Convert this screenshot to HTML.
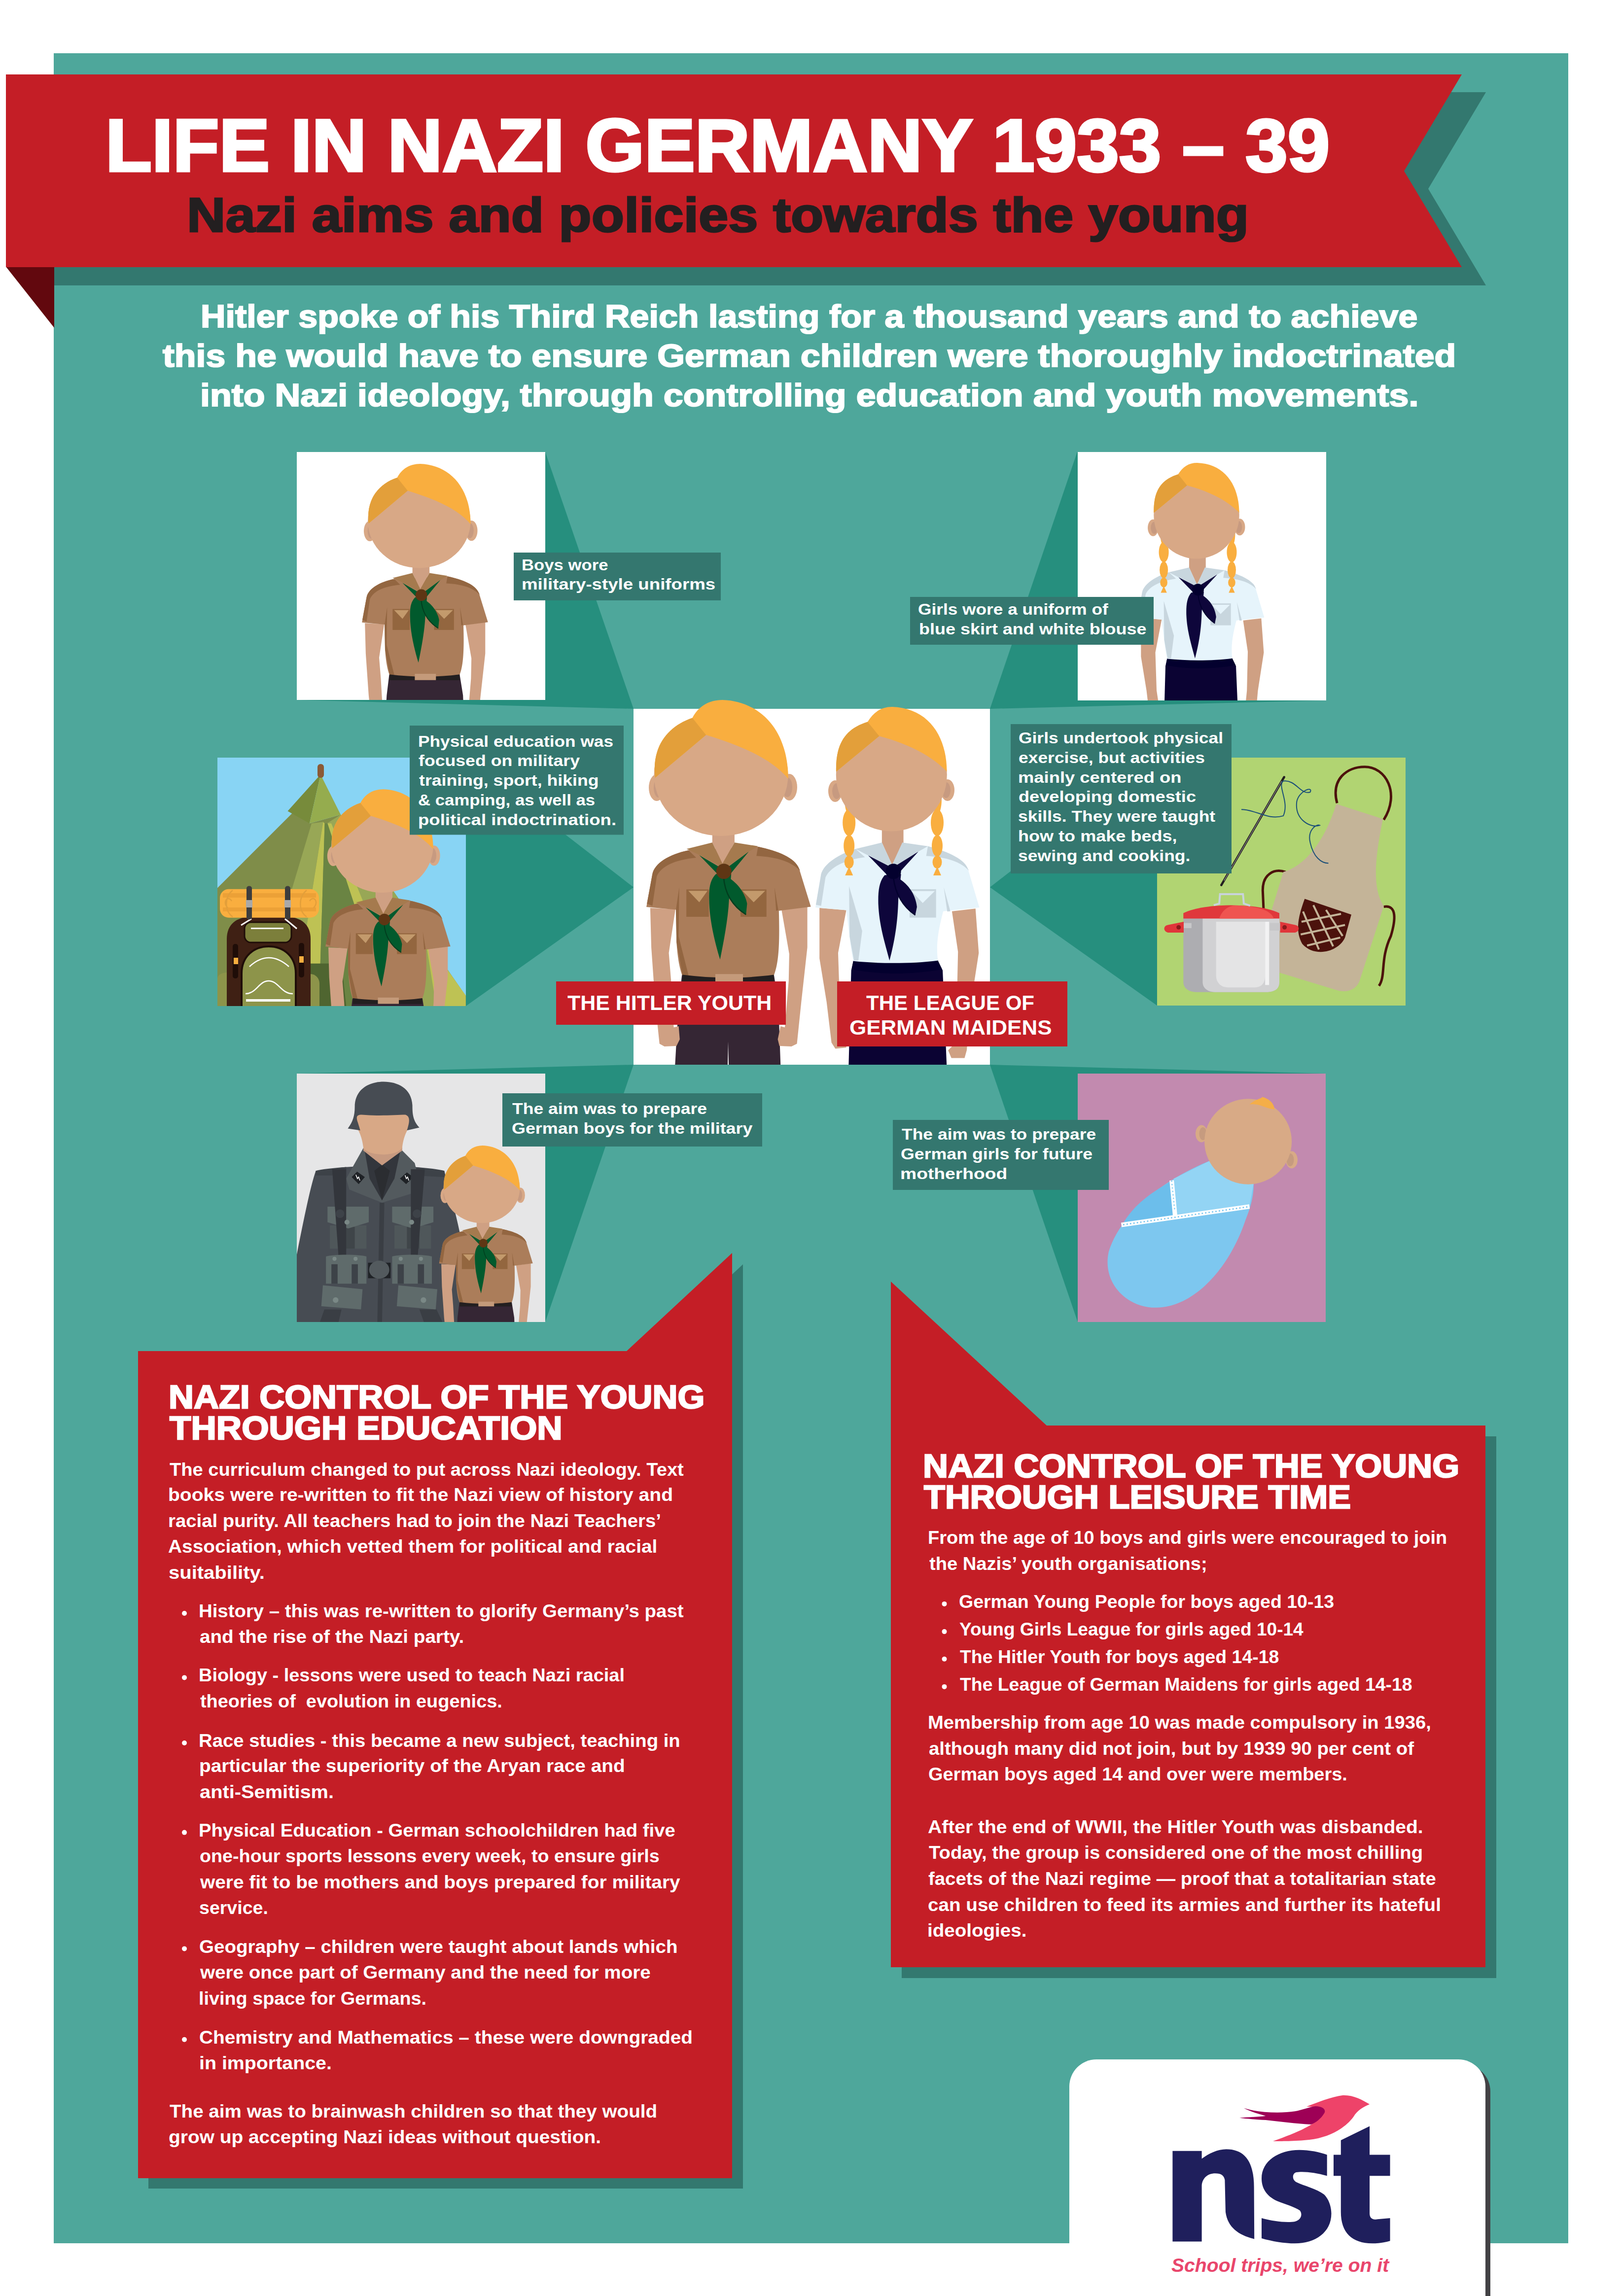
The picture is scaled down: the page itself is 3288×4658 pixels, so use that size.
<!DOCTYPE html>
<html><head><meta charset="utf-8"><style>
html,body{margin:0;padding:0;background:#fff;}
body{width:3288px;height:4658px;position:relative;overflow:hidden;font-family:"Liberation Sans",sans-serif;}
svg{position:absolute;left:0;top:0;}
.t{position:absolute;white-space:pre;font-weight:bold;transform-origin:0 0;}
</style></head><body>
<svg width="3288" height="4658" viewBox="0 0 3288 4658">
<defs>
<g id="boy">
<polygon fill="#352634" points="1383.3,1977.6 1569.8,1977.6 1578.7,2033.1 1584.3,2188.6 1478.8,2188.6 1477.0,2113.1 1475.4,2188.6 1367.7,2188.6 1376.6,2033.1"/>
<polygon fill="#cfa083" points="1318.9,1842.1 1321.1,1922.1 1328.9,2033.1 1337.7,2117.5 1347.7,2123.1 1372.2,2122.0 1378.8,2108.6 1376.6,2082.0 1366.6,2084.2 1361.1,1988.7 1356.6,1933.2 1370.0,1844.4"/>
<polygon fill="#cfa083" points="1637.6,1839.5 1637.6,1922.1 1625.3,2033.1 1616.5,2117.5 1605.4,2123.1 1580.9,2122.0 1577.6,2108.6 1583.2,2082.0 1592.0,2084.2 1599.8,1988.7 1600.9,1935.4 1585.4,1846.6"/>
<path fill="#ab7d5a" d="M 1396.6 1724.9 C 1356.6 1733.3 1327.8 1751.1 1323.3 1773.3 L 1311.1 1839.9 1371.1 1845.5 1372.2 1911.0 C 1374.4 1944.3 1378.8 1966.5 1384.4 1979.8 C 1445.5 1986.5 1512.1 1986.5 1569.8 1978.7 C 1578.7 1955.4 1582.0 1922.1 1579.8 1847.7 L 1644.7 1839.5 1620.9 1762.2 C 1612.0 1740.0 1578.7 1726.7 1537.6 1717.8 Z"/>
<path fill="#936641" d="M 1396.6 1724.9 C 1356.6 1733.3 1327.8 1751.1 1323.3 1773.3 L 1312.2 1833.3 1323.3 1837.7 1332.2 1777.7 C 1341.1 1757.7 1367.7 1744.4 1412.1 1740.0 Z"/>
<path fill="#936641" d="M 1537.6 1717.8 C 1578.7 1726.7 1612.0 1740.0 1620.9 1762.2 L 1623.1 1766.6 C 1605.4 1748.9 1578.7 1738.9 1534.3 1736.6 Z"/>
<polygon fill="#936641" points="1371.1,1845.5 1377.7,1799.9 1376.6,1899.9 1396.6,1978.7 1384.4,1978.7 1372.2,1911.0"/>
<polygon fill="#936641" points="1570.9,1799.9 1578.7,1846.6 1574.3,1847.7"/>
<path fill="#231f20" d="M 1384.4 1977.6 C 1445.5 1985.4 1512.1 1985.4 1569.4 1977.6 L 1569.4 1993.2 1384.4 1993.2 Z"/>
<rect fill="#c49a7a" x="1451.0" y="1976.1" width="56.0" height="16.7"/>
<rect fill="#93663f" x="1392.2" y="1804.4" width="45.5" height="55.5"/>
<polygon fill="#c39a6c" points="1396.2,1807.3 1435.0,1807.3 1418.4,1830.6"/>
<rect fill="#93663f" x="1502.1" y="1804.4" width="52.6" height="55.5"/>
<polygon fill="#c39a6c" points="1506.1,1807.3 1552.1,1807.3 1528.7,1830.6"/>
<polygon fill="#cfa083" points="1444.8,1682.2 1489.9,1682.2 1489.9,1709.3 1465.4,1752.2 1444.8,1709.3"/>
<polygon fill="#a57a4e" points="1392.6,1722.2 1444.8,1709.3 1465.4,1752.2 1458.8,1755.5 1418.8,1734.4"/>
<polygon fill="#a57a4e" points="1489.9,1709.3 1537.6,1716.7 1518.7,1727.8 1478.8,1755.5 1465.4,1752.2"/>
<polygon fill="#015a2d" points="1418.4,1735.1 1461.0,1760.0 1455.5,1773.3"/>
<polygon fill="#015a2d" points="1518.7,1727.8 1476.6,1758.9 1483.2,1771.1"/>
<path fill="#015a2d" d="M 1452.1 1773.3 C 1441.0 1784.4 1437.7 1799.9 1438.4 1824.4 C 1438.8 1866.6 1449.9 1911.0 1460.6 1946.5 C 1467.7 1911.0 1476.6 1866.6 1478.8 1824.4 L 1483.2 1773.3 Z"/>
<path fill="#015a2d" d="M 1467.7 1775.5 C 1489.9 1784.4 1509.9 1806.6 1515.4 1833.3 L 1513.2 1855.5 C 1489.9 1842.1 1476.6 1824.4 1467.7 1780.0 Z"/>
<path fill="none" stroke="#013d1e" stroke-width="2.5" d="M 1467.7 1778.8 C 1469.9 1811.0 1485.4 1837.7 1513.2 1855.5"/>
<circle fill="#5e3614" cx="1468.3" cy="1767.7" r="15.5"/>
<ellipse fill="#d8a886" cx="1332" cy="1598" rx="16" ry="27"/>
<ellipse fill="#c79a80" cx="1336" cy="1598" rx="10" ry="20"/>
<ellipse fill="#d8a886" cx="1601" cy="1597" rx="16" ry="27"/>
<ellipse fill="#c79a80" cx="1597" cy="1597" rx="10" ry="20"/>
<ellipse fill="#d8a886" cx="1462.6" cy="1572" rx="136" ry="124"/>
<path fill="#f9ae3f" d="M 1328.9 1577.7 C 1321.1 1515.5 1354.4 1473.3 1404.4 1456.6 C 1416.6 1433.3 1436.6 1420.4 1465.4 1420.0 C 1538.7 1422.2 1598.7 1477.7 1598.7 1579.9 C 1567.6 1542.1 1512.1 1515.5 1432.1 1491.1 Z"/>
<path fill="#e39f3a" d="M 1328.9 1577.7 C 1321.1 1515.5 1354.4 1473.3 1404.4 1456.6 L 1432.1 1491.1 Z"/>
</g>
<g id="girl">
<polygon fill="#cfa083" points="1662.2,1842.1 1662.2,1944.3 1676.7,2033.1 1686.6,2115.3 1694.4,2127.5 1716.6,2125.3 1716.6,2108.6 1710.0,2077.5 1703.3,2033.1 1700.0,1933.2 1716.6,1846.6"/>
<polygon fill="#cfa083" points="1978.7,1843.2 1985.3,1933.2 1969.8,2033.1 1960.9,2130.8 1956.5,2146.4 1929.8,2146.4 1923.2,2130.8 1932.0,2122.0 1940.9,2033.1 1943.2,1931.0 1930.9,1848.8"/>
<polygon fill="#0b0333" points="1731.1,1948.3 1902.1,1948.3 1912.1,1968.7 1921.4,2188.6 1720.6,2188.6 1726.6,1968.7"/>
<path fill="#03002e" d="M 1731.1 1948.3 C 1783.3 1954.3 1849.9 1954.3 1902.1 1948.3 L 1910.9 1966.5 C 1849.9 1977.6 1783.3 1977.6 1727.7 1966.5 Z"/>
<path fill="#e6f4fb" d="M 1735.5 1722.2 C 1701.1 1733.3 1672.2 1751.1 1665.5 1773.3 L 1654.0 1841.0 1716.6 1846.6 1723.3 1899.9 C 1725.5 1922.1 1728.8 1939.9 1731.1 1949.8 C 1783.3 1955.4 1849.9 1955.4 1902.1 1948.7 C 1899.8 1922.1 1899.8 1899.9 1913.2 1848.8 L 1986.5 1841.0 1963.1 1762.2 C 1956.5 1744.4 1927.6 1728.9 1882.1 1716.7 Z"/>
<path fill="#c8d6de" d="M 1735.5 1722.2 C 1701.1 1733.3 1672.2 1751.1 1665.5 1773.3 L 1654.9 1835.5 1665.5 1837.7 1674.4 1780.0 C 1683.3 1760.0 1712.2 1744.4 1754.4 1738.9 Z"/>
<path fill="#c8d6de" d="M 1882.1 1716.7 C 1927.6 1728.9 1956.5 1744.4 1963.1 1762.2 L 1965.4 1766.6 C 1949.8 1748.9 1920.9 1738.9 1878.7 1736.6 Z"/>
<polygon fill="#c8d6de" points="1722.2,1797.7 1748.8,1888.8 1741.1,1948.7 1732.2,1948.7 1723.3,1899.9"/>
<polygon fill="#c8d6de" points="1914.3,1799.9 1927.6,1848.8 1921.4,1849.2"/>
<rect fill="#c8d6de" x="1845.0" y="1803.9" width="53.7" height="57.7"/>
<polygon fill="#e6f4fb" points="1848.8,1807.7 1896.1,1807.7 1871.6,1832.1"/>
<polygon fill="#cfa083" points="1788.8,1677.8 1832.6,1677.8 1832.6,1709.3 1809.5,1754.4 1788.8,1709.3"/>
<polygon fill="#c8d6de" points="1735.5,1722.2 1788.8,1709.3 1809.5,1754.4 1803.2,1756.6 1761.0,1735.5"/>
<polygon fill="#c8d6de" points="1830.3,1709.3 1882.1,1716.7 1862.8,1727.8 1818.8,1755.5 1809.5,1754.4"/>
<polygon fill="#0e063b" points="1761.0,1735.5 1805.5,1758.2 1798.8,1774.4"/>
<polygon fill="#0e063b" points="1862.8,1727.8 1816.6,1756.6 1825.4,1768.8"/>
<path fill="#0e063b" d="M 1794.4 1775.5 C 1783.3 1788.8 1781.0 1806.6 1781.5 1833.3 C 1783.3 1877.7 1794.4 1911.0 1804.3 1948.7 C 1814.3 1911.0 1821.0 1873.2 1822.1 1824.4 L 1827.7 1773.3 Z"/>
<path fill="#0e063b" d="M 1813.2 1776.6 C 1838.8 1788.8 1856.5 1811.0 1859.9 1839.9 L 1856.5 1856.6 C 1834.3 1842.1 1821.0 1824.4 1812.1 1782.2 Z"/>
<path fill="none" stroke="#03002e" stroke-width="2.5" d="M 1812.1 1780.0 C 1815.5 1811.0 1829.9 1837.7 1856.5 1856.6"/>
<circle fill="#03002e" cx="1812.1" cy="1767.7" r="15.5"/>
<ellipse fill="#f9ae3f" cx="1722.2" cy="1622" rx="9" ry="30"/>
<ellipse fill="#f9ae3f" cx="1722.2" cy="1669" rx="13" ry="27"/>
<ellipse fill="#f9ae3f" cx="1722.2" cy="1716" rx="11" ry="22"/>
<ellipse fill="#f9ae3f" cx="1722.2" cy="1749" rx="9.5" ry="13"/>
<polygon fill="#f9ae3f" points="1714.2,1776 1730.2,1776 1722.2,1758"/>
<ellipse fill="#f9ae3f" cx="1901.0" cy="1622" rx="9" ry="30"/>
<ellipse fill="#f9ae3f" cx="1901.0" cy="1669" rx="13" ry="27"/>
<ellipse fill="#f9ae3f" cx="1901.0" cy="1716" rx="11" ry="22"/>
<ellipse fill="#f9ae3f" cx="1901.0" cy="1749" rx="9.5" ry="13"/>
<polygon fill="#f9ae3f" points="1893.0,1776 1909.0,1776 1901.0,1758"/>
<ellipse fill="#d8a886" cx="1694" cy="1605" rx="14" ry="22"/>
<ellipse fill="#c79a80" cx="1697" cy="1605" rx="9" ry="16"/>
<ellipse fill="#d8a886" cx="1922" cy="1603" rx="14" ry="22"/>
<ellipse fill="#c79a80" cx="1919" cy="1603" rx="9" ry="16"/>
<ellipse fill="#d8a886" cx="1808.3" cy="1572" rx="112.5" ry="114.5"/>
<path fill="#f9ae3f" d="M 1696.0 1565.5 C 1694.4 1506.6 1716.6 1477.7 1759.9 1464.4 C 1772.1 1444.4 1787.7 1434.0 1809.9 1434.0 C 1883.2 1436.6 1920.5 1493.3 1920.5 1565.5 C 1894.3 1537.7 1849.9 1511.0 1783.3 1493.3 Z"/>
<path fill="#e39f3a" d="M 1696.0 1565.5 C 1694.4 1506.6 1716.6 1477.7 1759.9 1464.4 L 1783.3 1493.3 Z"/>
</g>
<clipPath id="cC"><rect x="1285" y="1300" width="723" height="860"/></clipPath>
<clipPath id="cTL"><rect x="602" y="917" width="504" height="503"/></clipPath>
<clipPath id="cTR"><rect x="2186" y="917" width="504" height="504"/></clipPath>
<clipPath id="cML"><rect x="441" y="1537" width="504" height="504"/></clipPath>
<clipPath id="cMR"><rect x="2347" y="1537" width="504" height="503"/></clipPath>
<clipPath id="cBL"><rect x="602" y="2178" width="504" height="504"/></clipPath>
<clipPath id="cBR"><rect x="2186" y="2178" width="503" height="504"/></clipPath>
</defs>
<!-- teal panel -->
<rect x="109" y="108" width="3072" height="4443" fill="#4ea79b"/>
<!-- banner shadow -->
<polygon points="110,187 3014,187 2897,383 3014,579 110,579" fill="#33786f"/>
<!-- dark fold -->
<polygon points="12,541 110,541 110,665" fill="#62080e"/>
<!-- banner -->
<polygon points="12,151 2965,151 2848,347 2965,542 12,542" fill="#c41e26"/>
<!-- rays -->
<g fill="#268f7e">
<polygon points="1106,917 1285,1438 602,1420"/>
<polygon points="2185,917 2008,1438 2690,1421"/>
<polygon points="945,1537 1285,1800 945,2041"/>
<polygon points="2347,1537 2008,1800 2347,2040"/>
<polygon points="602,2178 1285,2160 1106,2682"/>
<polygon points="2689,2178 2008,2160 2186,2682"/>
</g>
<!-- photo boxes -->
<rect x="602" y="917" width="504" height="503" fill="#ffffff"/>
<rect x="2186" y="917" width="504" height="504" fill="#ffffff"/>
<rect x="441" y="1537" width="504" height="504" fill="#88d4f4"/>
<rect x="2347" y="1537" width="504" height="503" fill="#b1d472"/>
<rect x="602" y="2178" width="504" height="504" fill="#e6e6e7"/>
<rect x="2186" y="2178" width="503" height="504" fill="#c28aaf"/>
<rect x="1285" y="1438" width="723" height="722" fill="#ffffff"/>

<g clip-path="url(#cC)">
<use href="#boy"/>
<use href="#girl"/>
</g>
<g clip-path="url(#cTL)"><use href="#boy" transform="translate(-270.1,-146.7) scale(0.766)"/></g>
<g clip-path="url(#cTR)"><use href="#girl" transform="translate(1032.8,-166.7) scale(0.771)"/></g>
<g clip-path="url(#cML)"><polygon fill="#7f8d49" points="599.6,1643 627.9,1670.6 691,1652.8 945,2021 945,2041 441,2041 441,1801.6"/>
<polygon fill="#98a756" points="664,1670 691,1652.8 945,2021 945,2041 760,2041"/>
<polygon fill="#98a756" points="632,1670.6 655.4,1667.4 596.4,2041 520.9,2041"/>
<polygon fill="#bec254" points="655.4,1667.4 658.6,1670.6 647,2041 596.4,2041"/>
<polygon fill="#bec254" points="664.3,1670.6 672,1670.6 790,1960 760,1960"/>
<polygon fill="#6a8443" points="658.6,1670.6 664.3,1670.6 760,1960 830,2041 647,2041"/>
<polygon fill="#4f6530" points="629.9,1954.7 692.8,1954.7 702.3,2041.3 626.8,2041.3"/>
<polygon fill="#bec254" points="865.9,1923.3 894.2,1948.4 944.5,2019.2 944.5,2041.3 884.8,2041.3"/>
<polygon fill="#778b3b" points="650.2,1571.2 583.5,1645.6 627.9,1670.6"/>
<polygon fill="#95ac4e" points="650.2,1571.2 627.9,1670.6 691,1652.8"/>
<rect fill="#8b5a36" x="644" y="1550" width="13" height="28" rx="6"/>
<path fill="#8d944a" d="M441,2045 L441,1985 C441,1978 450,1973 460,1973 L470,1973 L470,2045 Z"/>
<path fill="#8d944a" d="M620,2045 L620,1976 L630,1976 C640,1976 648,1985 648,1995 L648,2045 Z"/>
<path fill="#3f2014" d="M460,2041 L460,1905 C460,1875 480,1860 510,1860 L580,1860 C610,1860 630,1875 630,1905 L630,2041 Z"/>
<rect fill="#7c7f3b" stroke="#1f0d08" stroke-width="3" x="496" y="1871" width="95" height="41" rx="13"/>
<path fill="#8d944a" stroke="#1f0d08" stroke-width="4" d="M490,2045 L490,1975 C490,1940 515,1920 545,1920 C575,1920 600,1940 600,1975 L600,2045 Z"/>
<rect fill="#1f0d08" x="472" y="1915" width="11" height="70" rx="5"/>
<rect fill="#1f0d08" x="606" y="1913" width="11" height="70" rx="5"/>
<rect fill="#f9ae3f" x="474" y="1943" width="9" height="13"/>
<rect fill="#f9ae3f" x="607" y="1940" width="9" height="13"/>
<rect fill="#ffffff" x="509" y="1882" width="66" height="3"/>
<path fill="none" stroke="#fff" stroke-width="2.5" d="M506,1961 Q545,1925 586,1961"/>
<path fill="none" stroke="#fff" stroke-width="2.5" d="M498,2016 C520,2016 525,1990 545,1990 C565,1990 570,2016 594,2016"/>
<rect fill="#ffffff" x="499" y="2027" width="90" height="5"/>
<path fill="none" stroke="#fff" stroke-width="3" d="M489,1877 L510,1864 M578,1864 L602,1884"/>
<rect fill="#f9ae3f" x="446" y="1803.7" width="201" height="58" rx="18"/>
<rect fill="#eca137" x="452" y="1812" width="189" height="9"/>
<rect fill="#eca137" x="452" y="1841" width="189" height="8"/>
<path fill="none" stroke="#e39f3a" stroke-width="2.5" d="M472,1806 C455,1820 455,1848 472,1860 M622,1806 C605,1820 605,1848 622,1860 M462,1842 C450,1830 462,1815 470,1828 M636,1842 C648,1830 636,1815 628,1828"/>
<rect fill="#3d3d3d" x="500" y="1797.5" width="11" height="68" rx="5"/>
<rect fill="#3d3d3d" x="578" y="1797.5" width="11" height="68" rx="5"/>
<rect fill="#a9a9a9" x="499" y="1826" width="13" height="15"/>
<rect fill="#a9a9a9" x="577" y="1826" width="13" height="15"/>
<use href="#boy" transform="translate(-336.3,522) scale(0.76)"/></g>
<g clip-path="url(#cMR)"><path fill="none" stroke="#4c120c" stroke-width="5" d="M2712.1,1629.4 C2699.3,1581.3 2731.4,1555.7 2768.3,1555.7 C2811.6,1555.7 2840.4,1610.2 2806.8,1663.1"/>
<path fill="none" stroke="#4c120c" stroke-width="5" d="M2607.9,1769.0 C2583.8,1761.0 2561.3,1773.8 2561.3,1805.9 L2562.9,1842.8"/>
<path fill="none" stroke="#4c120c" stroke-width="5" d="M2806.8,1839.6 C2834.0,1834.8 2830.8,1866.8 2821.2,1898.9 C2798.7,1947.0 2811.6,1979.1 2797.1,2000.0"/>
<path fill="#c4b498" d="M2710.5,1631.0 L2805.1,1661.5 C2789.1,1738.5 2782.7,1802.7 2806.8,1838.0 L2757.0,1991.9 C2747.4,2011.2 2728.2,2014.4 2708.9,2008.0 L2593.4,1972.7 L2579.0,1847.6 L2603.0,1769.0 C2644.8,1757.8 2686.5,1709.6 2710.5,1631.0 Z"/>
<path fill="#4c120c" d="M2646.4,1823.5 L2741.0,1855.6 L2728.2,1902.1 C2715.3,1931.0 2667.2,1943.8 2641.5,1914.9 C2628.7,1892.5 2630.3,1866.8 2646.4,1823.5 Z"/>
<path fill="none" stroke="#c4b498" stroke-width="4" d="M2639.9,1870.0 L2720.1,1854.0 M2638.3,1895.7 L2728.2,1876.5 M2651.2,1918.2 L2718.5,1902.1 M2643.1,1849.2 L2675.2,1926.2 M2664.0,1836.4 L2704.1,1919.8 M2689.7,1846.0 L2723.3,1898.9"/>
<path fill="none" stroke="#231f20" stroke-width="4.5" stroke-linecap="round" d="M2477.3,1795.6 L2604.7,1576.5"/>
<path fill="none" stroke="#9a9a9a" stroke-width="1.2" d="M2482.8,1786.6 L2599.8,1584.5"/>
<path fill="none" stroke="#1b4f78" stroke-width="2" d="M2518.0,1642.3 C2548.5,1642.3 2571.0,1664.7 2603.0,1655.1 C2615.9,1626.2 2590.2,1594.2 2603.0,1584.5 C2628.7,1581.3 2638.3,1613.4 2657.6,1607.0 C2664.0,1594.2 2635.1,1603.8 2630.3,1626.2 C2625.5,1664.7 2660.8,1680.8 2676.8,1674.4 C2670.4,1671.1 2651.2,1684.0 2657.6,1709.6 C2664.0,1738.5 2680.0,1751.3 2694.5,1751.3"/>
<path fill="#adadb1" d="M2400.3,1862.0 L2595.0,1862.0 L2595.0,1991.9 C2595.0,2008.0 2583.8,2012.8 2564.6,2012.8 L2429.8,2012.8 C2410.6,2012.8 2400.3,2004.8 2400.3,1991.9 Z"/>
<path fill="#d1d1d3" d="M2439.4,1862.0 L2595.0,1862.0 L2595.0,1991.9 C2595.0,2008.0 2583.8,2012.8 2564.6,2012.8 L2468.3,2012.8 C2449.1,2012.8 2439.4,2004.8 2439.4,1991.9 Z"/>
<path fill="#e4e4e5" d="M2466.7,1870.0 L2566.2,1870.0 L2566.2,1979.1 C2566.2,1995.1 2558.1,2003.2 2545.3,2003.2 L2490.8,2003.2 C2474.7,2003.2 2466.7,1991.9 2466.7,1979.1 Z"/>
<rect fill="#f2f2f3" x="2566.2" y="1870.0" width="8.0" height="128.3"/>
<path fill="#e0383c" d="M2400.3,1863.6 L2400.3,1852.4 C2423.4,1841.2 2461.9,1836.4 2497.2,1836.4 C2532.5,1836.4 2571.0,1841.2 2595.0,1852.4 L2595.0,1863.6 Z"/>
<path fill="#ef5450" d="M2473.1,1863.6 C2477.9,1847.6 2490.8,1837.3 2506.8,1837.0 C2545.3,1838.0 2577.4,1844.4 2583.8,1863.6 Z"/>
<path fill="none" stroke="#c9d3dc" stroke-width="4" d="M2461.9,1836.4 L2473.1,1833.1 L2474.7,1813.9 L2521.2,1813.9 L2522.9,1833.1 L2535.7,1837.3"/>
<rect fill="#c7c7c9" x="2397.7" y="1872.6" width="19.2" height="10.3"/>
<rect fill="#c7c7c9" x="2575.8" y="1872.6" width="22.5" height="15.4"/>
<path fill="#e0363a" d="M2401.0,1870.0 L2401.0,1891.9 L2368.9,1891.9 C2359.2,1889.3 2359.2,1878.1 2368.9,1876.5 Z"/>
<path fill="#e0363a" d="M2596.6,1870.0 L2596.6,1891.9 L2627.1,1891.9 C2636.7,1889.3 2636.7,1878.1 2627.1,1876.5 Z"/>
<circle fill="#8b1a1c" cx="2390.7" cy="1881.3" r="4.5"/>
<circle fill="#8b1a1c" cx="2605.6" cy="1881.3" r="4.5"/></g>
<g clip-path="url(#cBL)"><path fill="#474c53" d="M640.6,2375.3 C692.8,2362.7 850.7,2362.7 901.2,2375.3 C913.9,2422.7 926.5,2470.1 932.8,2501.6 L939.1,2683.3 L601.8,2683.3 L601.8,2545.9 C617.0,2470.1 629.6,2406.9 640.6,2375.3 Z"/>
<polygon fill="#3d4248" points="640.6,2375.3 702.2,2367.4 702.2,2384.8 640.6,2384.8"/>
<polygon fill="#3d4248" points="841.2,2367.4 901.2,2375.3 901.2,2387.9 841.2,2384.8"/>
<polygon fill="#3a3e44" points="658.0,2656.4 692.8,2656.4 686.4,2683.3 648.5,2683.3"/>
<polygon fill="#3a3e44" points="850.7,2656.4 885.4,2656.4 898.1,2683.3 860.2,2683.3"/>
<polygon fill="#535a5e" points="738.6,2326.3 774.9,2365.8 811.2,2329.5 841.2,2359.5 850.7,2397.4 841.2,2419.5 774.9,2440.1 708.5,2413.2 702.2,2391.1"/>
<polygon fill="#33363c" points="738.6,2327.9 774.9,2362.7 812.8,2331.1 800.1,2391.1 774.9,2435.3 749.6,2391.1"/>
<polygon fill="#2b2d31" points="759.1,2375.3 774.9,2362.7 790.7,2375.3 774.9,2435.3"/>
<polygon fill="#1f2226" points="713.3,2387.9 724.3,2376.9 740.1,2387.9 727.5,2402.2"/>
<polygon fill="#1f2226" points="811.2,2391.1 825.4,2378.5 838.1,2387.9 823.8,2402.2"/>
<path fill="none" stroke="#fff" stroke-width="1.6" d="M721.8,2383.2 L725.0,2391.1 L727.5,2387.9 L730.0,2394.9 M821.6,2384.2 L824.2,2391.1 L826.7,2387.9 L829.2,2394.9"/>
<polygon fill="#3a3e44" points="770.1,2440.1 779.6,2440.1 774.9,2683.3 765.4,2683.3"/>
<rect fill="#4f575a" x="669.1" y="2485.9" width="74.2" height="47.4"/>
<rect fill="#3f4549" x="694.3" y="2489.0" width="25.3" height="44.2"/>
<polygon fill="#5f6b6b" points="664.3,2448.0 748.0,2448.0 748.0,2479.5 706.2,2492.2 664.3,2479.5"/>
<rect fill="#4f575a" x="800.1" y="2485.9" width="74.2" height="47.4"/>
<rect fill="#3f4549" x="825.4" y="2489.0" width="25.3" height="44.2"/>
<polygon fill="#5f6b6b" points="795.4,2448.0 879.1,2448.0 879.1,2479.5 837.3,2492.2 795.4,2479.5"/>
<polygon fill="#33363c" points="673.8,2372.1 702.2,2372.1 702.2,2545.9 686.4,2545.9"/>
<polygon fill="#33363c" points="833.3,2372.1 861.7,2372.1 847.5,2545.9 833.3,2545.9"/>
<circle fill="#3d4248" cx="689.6" cy="2462.2" r="8.8"/>
<circle fill="#3d4248" cx="845.9" cy="2462.2" r="8.8"/>
<circle fill="#7a8886" cx="703.8" cy="2479.5" r="5.1"/>
<circle fill="#7a8886" cx="834.9" cy="2479.5" r="5.1"/>
<rect fill="#1f2226" x="746.5" y="2561.7" width="45.8" height="31.6"/>
<path fill="#5f6b6b" d="M661.2,2549.0 C675.4,2544.3 729.1,2544.3 743.3,2549.0 L743.3,2604.3 L661.2,2604.3 Z"/>
<rect fill="#3d4248" x="672.2" y="2564.8" width="12.6" height="39.5"/>
<rect fill="#3d4248" x="713.3" y="2564.8" width="12.6" height="39.5"/>
<circle fill="#7a8886" cx="678.5" cy="2553.8" r="4.1"/>
<circle fill="#7a8886" cx="721.2" cy="2553.8" r="4.1"/>
<path fill="#5f6b6b" d="M795.4,2549.0 C809.6,2544.3 861.7,2544.3 876.0,2549.0 L876.0,2604.3 L795.4,2604.3 Z"/>
<rect fill="#3d4248" x="806.5" y="2564.8" width="12.6" height="39.5"/>
<rect fill="#3d4248" x="847.5" y="2564.8" width="12.6" height="39.5"/>
<circle fill="#7a8886" cx="812.8" cy="2553.8" r="4.1"/>
<circle fill="#7a8886" cx="853.8" cy="2553.8" r="4.1"/>
<ellipse fill="#535a5e" cx="769.2" cy="2575.9" rx="20.5" ry="18.3"/>
<polygon fill="#5f6b6b" points="654.9,2607.5 735.4,2615.4 732.2,2656.4 651.7,2650.1"/>
<circle fill="#7a8886" cx="680.8" cy="2637.5" r="5.7"/>
<polygon fill="#5f6b6b" points="808.0,2607.5 887.0,2615.4 883.8,2656.4 804.9,2650.1"/>
<circle fill="#7a8886" cx="858.9" cy="2637.5" r="5.7"/>
<polygon fill="#c79a80" points="737.0,2312.1 815.9,2312.1 815.9,2334.2 774.9,2364.3 737.0,2334.2"/>
<path fill="#d8a886" d="M722.8,2264.8 C722.8,2245.8 831.7,2245.8 831.7,2264.8 L830.2,2283.7 C825.4,2296.3 819.1,2302.7 815.9,2327.9 C806.5,2346.9 746.5,2346.9 737.0,2327.9 C733.8,2302.7 727.5,2296.3 722.8,2283.7 Z"/>
<path fill="#474c53" d="M705.4,2289.4 L730.7,2293.2 L725.9,2277.4 C721.2,2264.8 724.3,2261.6 733.8,2261.6 C771.7,2264.8 803.3,2261.6 822.3,2261.6 C831.7,2264.8 831.7,2274.2 825.4,2293.2 L850.7,2287.5 C838.1,2274.2 836.5,2261.6 836.5,2242.6 C834.9,2207.9 806.5,2194.6 778.0,2194.6 C746.5,2194.6 719.6,2211.1 719.6,2245.8 C719.6,2264.8 714.9,2277.4 705.4,2289.4 Z"/>
<use href="#boy" transform="translate(144,1515.4) scale(0.5695)"/></g>
<g clip-path="url(#cBR)"><path fill="#7dc7ef" d="M2452.7,2355.4 C2372.5,2388.1 2276.2,2452.3 2249.0,2538.9 C2234.5,2603.1 2285.9,2654.4 2346.8,2652.8 C2423.8,2651.2 2494.4,2571.0 2526.5,2474.8 C2539.3,2442.7 2544.1,2420.2 2542.5,2394.6 Z"/>
<polygon fill="#93d4f4" points="2380.5,2391.3 2452.7,2355.4 2544.1,2394.6 2534.5,2445.9 2385.3,2463.5"/>
<path fill="#6cbeeb" d="M2375.7,2396.2 L2385.3,2463.5 L2279.4,2479.6 C2301.9,2442.7 2334.0,2420.2 2375.7,2396.2 Z"/>
<path fill="none" stroke="#ffffff" stroke-width="9" d="M2274.6,2485.0 L2534.5,2447.8 M2376.6,2394.6 L2383.7,2468.3"/>
<path fill="none" stroke="#7dc7ef" stroke-width="3.2" stroke-linecap="round" stroke-dasharray="0 7" d="M2279.4,2484.4 L2532.9,2448.1"/>
<path fill="none" stroke="#93d4f4" stroke-width="3.2" stroke-linecap="round" stroke-dasharray="0 7" d="M2376.6,2396.2 L2383.1,2458.7"/>
<ellipse fill="#d8aa86" cx="2437" cy="2300" rx="12" ry="17.5"/>
<ellipse fill="#c69b7f" cx="2440" cy="2300" rx="7.5" ry="13"/>
<ellipse fill="#d8aa86" cx="2620" cy="2353" rx="12" ry="17.5"/>
<ellipse fill="#c69b7f" cx="2617" cy="2353" rx="7.5" ry="13"/>
<ellipse fill="#d8aa86" cx="2531.6" cy="2316" rx="88.5" ry="86.7"/>
<path fill="#f4ae48" d="M2534.5,2240.6 C2548.9,2227.7 2564.9,2227.7 2558.5,2225.2 C2574.6,2227.7 2585.8,2240.6 2584.8,2250.8 C2564.9,2248.6 2555.3,2237.4 2534.5,2240.6 Z"/></g>
<g fill="#34776f">
<rect x="1042" y="1121" width="420" height="97"/>
<rect x="1846" y="1211" width="494" height="97"/>
<rect x="831" y="1472" width="434" height="221.5"/>
<rect x="2050" y="1469" width="448" height="303"/>
<rect x="1019" y="2218" width="527" height="108"/>
<rect x="1811" y="2272" width="438" height="142"/>
</g>
<g fill="#c41e26">
<rect x="1128" y="1991" width="466" height="88"/>
<rect x="1698" y="1991" width="467" height="132"/>
</g>

<!-- education red box -->
<polygon points="301,2764 1293,2764 1507,2565 1507,4440 301,4440" fill="#33786f"/>
<polygon points="280,2741 1271,2741 1485,2542 1485,4419 280,4419" fill="#c41e26"/>
<!-- leisure red box -->
<polygon points="1829,2914 3035,2914 3035,4013 1829,4013" fill="#33786f"/>
<polygon points="1807,2600 2123,2892 3013,2892 3013,3991 1807,3991" fill="#c41e26"/>
<!-- logo box -->
<rect x="2179" y="4188" width="844" height="600" rx="55" fill="#434245"/>
<rect x="2169" y="4178" width="844" height="600" rx="55" fill="#ffffff"/>

<path fill="#ee4369" d="M 2582.1,4344.0 C 2626.5,4327.7 2656.1,4315.9 2676.8,4298.1 C 2685.7,4289.2 2682.8,4274.4 2673.9,4274.4 L 2650.2,4273.8 C 2670.9,4265.5 2700.5,4253.7 2724.2,4250.7 C 2745.0,4250.1 2762.7,4259.6 2778.1,4269.1 C 2765.7,4274.4 2753.8,4280.3 2745.0,4295.1 C 2727.2,4318.8 2694.6,4336.6 2656.1,4341.0 C 2626.5,4344.0 2596.9,4344.0 2582.1,4344.0 Z"/>
<path fill="#9e0056" d="M 2522.9,4276.8 C 2552.5,4286.3 2596.9,4287.7 2626.5,4283.3 C 2641.3,4280.3 2656.1,4274.4 2668.0,4272.9 C 2685.7,4272.9 2690.2,4281.8 2685.7,4287.7 C 2679.8,4298.1 2668.0,4307.0 2659.1,4310.0 C 2626.5,4308.5 2596.9,4304.0 2567.3,4301.1 C 2543.6,4299.6 2522.9,4298.1 2514.0,4296.6 C 2534.7,4295.1 2552.5,4294.6 2567.3,4292.8 C 2549.5,4287.7 2534.7,4283.3 2522.9,4276.8 Z"/>
<path fill="#1f1f5c" d="M 2378.4,4363.8 L 2437.6,4363.8 L 2437.6,4379.5 C 2451.8,4369.2 2469.6,4360.3 2487.3,4360.3 C 2525.8,4360.3 2543.6,4386.9 2543.6,4437.3 L 2544.2,4542.4 C 2514.0,4535.0 2490.3,4520.2 2485.9,4487.6 L 2484.4,4422.5 C 2482.9,4413.6 2477.0,4409.2 2465.1,4409.2 C 2448.8,4409.2 2438.5,4419.5 2437.6,4434.3 L 2437.6,4547.4 L 2378.4,4547.4 Z"/>
<path fill="#1f1f5c" d="M 2691.7,4371.5 L 2691.7,4414.2 C 2668.0,4407.7 2644.3,4404.7 2629.5,4407.1 C 2620.6,4409.2 2620.6,4422.5 2629.5,4426.9 C 2644.3,4434.3 2670.9,4440.2 2685.7,4452.1 C 2697.6,4463.9 2700.5,4481.7 2700.5,4490.6 C 2700.5,4529.1 2668.0,4551.3 2626.5,4551.3 C 2605.8,4551.3 2579.1,4546.8 2559.0,4540.9 L 2559.0,4500.1 C 2582.1,4506.9 2611.7,4509.8 2626.5,4506.9 C 2638.4,4503.9 2642.8,4493.5 2636.9,4484.7 C 2626.5,4477.3 2605.8,4471.3 2591.0,4465.4 C 2567.3,4455.1 2559.0,4437.3 2559.0,4419.5 C 2559.0,4384.0 2593.9,4361.8 2635.4,4361.8 C 2656.1,4361.8 2676.8,4366.2 2691.7,4371.5 Z"/>
<path fill="#1f1f5c" d="M 2719.8,4341.9 L 2778.1,4313.5 L 2778.1,4371.5 L 2819.6,4371.5 L 2819.6,4414.2 L 2778.1,4414.2 L 2778.1,4490.6 C 2778.1,4499.5 2783.5,4503.9 2792.3,4502.4 L 2819.6,4500.1 L 2819.6,4546.3 C 2807.1,4549.8 2795.3,4551.3 2783.5,4551.3 C 2742.0,4551.3 2719.8,4529.1 2719.8,4487.6 L 2719.8,4414.2 L 2705.0,4414.2 L 2705.0,4371.5 L 2719.8,4371.5 Z"/>
<circle fill="#fff" cx="374" cy="3273" r="5"/>
<circle fill="#fff" cx="374" cy="3403.4" r="5"/>
<circle fill="#fff" cx="374" cy="3536" r="5"/>
<circle fill="#fff" cx="374" cy="3717.6" r="5"/>
<circle fill="#fff" cx="374" cy="3953.4" r="5"/>
<circle fill="#fff" cx="374" cy="4137.7" r="5"/>
<circle fill="#fff" cx="1915.5" cy="3253.9" r="5"/>
<circle fill="#fff" cx="1915.5" cy="3310.1" r="5"/>
<circle fill="#fff" cx="1915.5" cy="3365.7" r="5"/>
<circle fill="#fff" cx="1915.5" cy="3421.9" r="5"/>
</svg>
<div class="t" style="left:214.11px;top:220.9px;font-size:149.73px;line-height:149.73px;color:#ffffff;-webkit-text-stroke:5.0px #ffffff;font-style:normal;transform:scaleX(1.02679)">LIFE IN NAZI GERMANY 1933 – 39</div>
<div class="t" style="left:379.05px;top:386.5px;font-size:98.64px;line-height:98.64px;color:#231f20;-webkit-text-stroke:3.0px #231f20;font-style:normal;transform:scaleX(1.10106)">Nazi aims and policies towards the young</div>
<div class="t" style="left:406.88px;top:609.4px;font-size:65.10px;line-height:65.10px;color:#ffffff;-webkit-text-stroke:2.2px #ffffff;font-style:normal;transform:scaleX(1.07463)">Hitler spoke of his Third Reich lasting for a thousand years and to achieve</div>
<div class="t" style="left:329.61px;top:689.3px;font-size:65.10px;line-height:65.10px;color:#ffffff;-webkit-text-stroke:2.2px #ffffff;font-style:normal;transform:scaleX(1.10061)">this he would have to ensure German children were thoroughly indoctrinated</div>
<div class="t" style="left:405.80px;top:768.9px;font-size:65.10px;line-height:65.10px;color:#ffffff;-webkit-text-stroke:2.2px #ffffff;font-style:normal;transform:scaleX(1.10288)">into Nazi ideology, through controlling education and youth movements.</div>
<div class="t" style="left:1057.63px;top:1129.5px;font-size:32.00px;line-height:32.00px;color:#ffffff;font-style:normal;transform:scaleX(1.08532)">Boys wore</div>
<div class="t" style="left:1057.51px;top:1169.2px;font-size:32.00px;line-height:32.00px;color:#ffffff;font-style:normal;transform:scaleX(1.14569)">military-style uniforms</div>
<div class="t" style="left:1862.30px;top:1220.4px;font-size:32.00px;line-height:32.00px;color:#ffffff;font-style:normal;transform:scaleX(1.10123)">Girls wore a uniform of</div>
<div class="t" style="left:1863.55px;top:1259.5px;font-size:32.00px;line-height:32.00px;color:#ffffff;font-style:normal;transform:scaleX(1.12370)">blue skirt and white blouse</div>
<div class="t" style="left:847.99px;top:1487.6px;font-size:32.00px;line-height:32.00px;color:#ffffff;font-style:normal;transform:scaleX(1.10253)">Physical education was</div>
<div class="t" style="left:849.20px;top:1527.3px;font-size:32.00px;line-height:32.00px;color:#ffffff;font-style:normal;transform:scaleX(1.11449)">focused on military</div>
<div class="t" style="left:850.20px;top:1567.1px;font-size:32.00px;line-height:32.00px;color:#ffffff;font-style:normal;transform:scaleX(1.11438)">training, sport, hiking</div>
<div class="t" style="left:848.12px;top:1606.8px;font-size:32.00px;line-height:32.00px;color:#ffffff;font-style:normal;transform:scaleX(1.08574)">&amp; camping, as well as</div>
<div class="t" style="left:847.91px;top:1646.5px;font-size:32.00px;line-height:32.00px;color:#ffffff;font-style:normal;transform:scaleX(1.14217)">political indoctrination.</div>
<div class="t" style="left:2065.69px;top:1480.7px;font-size:32.00px;line-height:32.00px;color:#ffffff;font-style:normal;transform:scaleX(1.10606)">Girls undertook physical</div>
<div class="t" style="left:2065.69px;top:1520.7px;font-size:32.00px;line-height:32.00px;color:#ffffff;font-style:normal;transform:scaleX(1.10680)">exercise, but activities</div>
<div class="t" style="left:2064.53px;top:1560.7px;font-size:32.00px;line-height:32.00px;color:#ffffff;font-style:normal;transform:scaleX(1.13644)">mainly centered on</div>
<div class="t" style="left:2065.67px;top:1600.4px;font-size:32.00px;line-height:32.00px;color:#ffffff;font-style:normal;transform:scaleX(1.13118)">developing domestic</div>
<div class="t" style="left:2064.70px;top:1640.4px;font-size:32.00px;line-height:32.00px;color:#ffffff;font-style:normal;transform:scaleX(1.10841)">skills. They were taught</div>
<div class="t" style="left:2064.55px;top:1680.2px;font-size:32.00px;line-height:32.00px;color:#ffffff;font-style:normal;transform:scaleX(1.12681)">how to make beds,</div>
<div class="t" style="left:2064.69px;top:1720.2px;font-size:32.00px;line-height:32.00px;color:#ffffff;font-style:normal;transform:scaleX(1.11030)">sewing and cooking.</div>
<div class="t" style="left:1039.20px;top:2232.9px;font-size:32.00px;line-height:32.00px;color:#ffffff;font-style:normal;transform:scaleX(1.11082)">The aim was to prepare</div>
<div class="t" style="left:1038.08px;top:2272.6px;font-size:32.00px;line-height:32.00px;color:#ffffff;font-style:normal;transform:scaleX(1.12124)">German boys for the military</div>
<div class="t" style="left:1828.60px;top:2285.3px;font-size:32.00px;line-height:32.00px;color:#ffffff;font-style:normal;transform:scaleX(1.10856)">The aim was to prepare</div>
<div class="t" style="left:1827.49px;top:2325.1px;font-size:32.00px;line-height:32.00px;color:#ffffff;font-style:normal;transform:scaleX(1.11623)">German girls for future</div>
<div class="t" style="left:1826.28px;top:2364.8px;font-size:32.00px;line-height:32.00px;color:#ffffff;font-style:normal;transform:scaleX(1.16444)">motherhood</div>
<div class="t" style="left:1151.20px;top:2013.2px;font-size:42.60px;line-height:42.60px;color:#ffffff;font-style:normal;transform:scaleX(1.00789)">THE HITLER YOUTH</div>
<div class="t" style="left:1757.40px;top:2013.0px;font-size:42.60px;line-height:42.60px;color:#ffffff;font-style:normal;transform:scaleX(0.98702)">THE LEAGUE OF</div>
<div class="t" style="left:1723.17px;top:2062.6px;font-size:42.60px;line-height:42.60px;color:#ffffff;font-style:normal;transform:scaleX(1.03256)">GERMAN MAIDENS</div>
<div class="t" style="left:341.57px;top:2800.0px;font-size:67.22px;line-height:67.22px;color:#ffffff;-webkit-text-stroke:2.6px #ffffff;font-style:normal;transform:scaleX(1.04991)">NAZI CONTROL OF THE YOUNG</div>
<div class="t" style="left:344.37px;top:2862.9px;font-size:67.22px;line-height:67.22px;color:#ffffff;-webkit-text-stroke:2.6px #ffffff;font-style:normal;transform:scaleX(1.05782)">THROUGH EDUCATION</div>
<div class="t" style="left:344.40px;top:2963.5px;font-size:36.60px;line-height:36.60px;color:#ffffff;font-style:normal;transform:scaleX(1.04212)">The curriculum changed to put across Nazi ideology. Text</div>
<div class="t" style="left:341.27px;top:3015.3px;font-size:36.60px;line-height:36.60px;color:#ffffff;font-style:normal;transform:scaleX(1.06748)">books were re-written to fit the Nazi view of history and</div>
<div class="t" style="left:341.31px;top:3067.8px;font-size:36.60px;line-height:36.60px;color:#ffffff;font-style:normal;transform:scaleX(1.04740)">racial purity. All teachers had to join the Nazi Teachers’</div>
<div class="t" style="left:341.00px;top:3120.4px;font-size:36.60px;line-height:36.60px;color:#ffffff;font-style:normal;transform:scaleX(1.06131)">Association, which vetted them for political and racial</div>
<div class="t" style="left:342.31px;top:3173.3px;font-size:36.60px;line-height:36.60px;color:#ffffff;font-style:normal;transform:scaleX(1.09369)">suitability.</div>
<div class="t" style="left:402.71px;top:3251.1px;font-size:36.60px;line-height:36.60px;color:#ffffff;font-style:normal;transform:scaleX(1.04880)">History – this was re-written to glorify Germany’s past</div>
<div class="t" style="left:404.74px;top:3302.9px;font-size:36.60px;line-height:36.60px;color:#ffffff;font-style:normal;transform:scaleX(1.05654)">and the rise of the Nazi party.</div>
<div class="t" style="left:402.73px;top:3380.6px;font-size:36.60px;line-height:36.60px;color:#ffffff;font-style:normal;transform:scaleX(1.03657)">Biology - lessons were used to teach Nazi racial</div>
<div class="t" style="left:405.80px;top:3434.3px;font-size:36.60px;line-height:36.60px;color:#ffffff;font-style:normal;transform:scaleX(1.03620)">theories of  evolution in eugenics.</div>
<div class="t" style="left:402.71px;top:3513.5px;font-size:36.60px;line-height:36.60px;color:#ffffff;font-style:normal;transform:scaleX(1.04681)">Race studies - this became a new subject, teaching in</div>
<div class="t" style="left:403.68px;top:3565.3px;font-size:36.60px;line-height:36.60px;color:#ffffff;font-style:normal;transform:scaleX(1.06149)">particular the superiority of the Aryan race and</div>
<div class="t" style="left:404.71px;top:3617.8px;font-size:36.60px;line-height:36.60px;color:#ffffff;font-style:normal;transform:scaleX(1.08813)">anti-Semitism.</div>
<div class="t" style="left:402.71px;top:3696.3px;font-size:36.60px;line-height:36.60px;color:#ffffff;font-style:normal;transform:scaleX(1.04520)">Physical Education - German schoolchildren had five</div>
<div class="t" style="left:404.77px;top:3748.1px;font-size:36.60px;line-height:36.60px;color:#ffffff;font-style:normal;transform:scaleX(1.03120)">one-hour sports lessons every week, to ensure girls</div>
<div class="t" style="left:405.86px;top:3801.1px;font-size:36.60px;line-height:36.60px;color:#ffffff;font-style:normal;transform:scaleX(1.06214)">were fit to be mothers and boys prepared for military</div>
<div class="t" style="left:403.78px;top:3852.9px;font-size:36.60px;line-height:36.60px;color:#ffffff;font-style:normal;transform:scaleX(1.02629)">service.</div>
<div class="t" style="left:403.75px;top:3931.8px;font-size:36.60px;line-height:36.60px;color:#ffffff;font-style:normal;transform:scaleX(1.05407)">Geography – children were taught about lands which</div>
<div class="t" style="left:405.85px;top:3984.3px;font-size:36.60px;line-height:36.60px;color:#ffffff;font-style:normal;transform:scaleX(1.05523)">were once part of Germany and the need for more</div>
<div class="t" style="left:402.74px;top:4037.4px;font-size:36.60px;line-height:36.60px;color:#ffffff;font-style:normal;transform:scaleX(1.03327)">living space for Germans.</div>
<div class="t" style="left:403.74px;top:4116.0px;font-size:36.60px;line-height:36.60px;color:#ffffff;font-style:normal;transform:scaleX(1.06126)">Chemistry and Mathematics – these were downgraded</div>
<div class="t" style="left:403.66px;top:4167.8px;font-size:36.60px;line-height:36.60px;color:#ffffff;font-style:normal;transform:scaleX(1.07555)">in importance.</div>
<div class="t" style="left:344.40px;top:4265.9px;font-size:36.60px;line-height:36.60px;color:#ffffff;font-style:normal;transform:scaleX(1.05562)">The aim was to brainwash children so that they would</div>
<div class="t" style="left:342.34px;top:4317.8px;font-size:36.60px;line-height:36.60px;color:#ffffff;font-style:normal;transform:scaleX(1.06286)">grow up accepting Nazi ideas without question.</div>
<div class="t" style="left:1871.97px;top:2940.0px;font-size:67.22px;line-height:67.22px;color:#ffffff;-webkit-text-stroke:2.6px #ffffff;font-style:normal;transform:scaleX(1.05069)">NAZI CONTROL OF THE YOUNG</div>
<div class="t" style="left:1874.36px;top:3002.9px;font-size:67.22px;line-height:67.22px;color:#ffffff;-webkit-text-stroke:2.6px #ffffff;font-style:normal;transform:scaleX(1.04482)">THROUGH LEISURE TIME</div>
<div class="t" style="left:1881.73px;top:3101.5px;font-size:36.60px;line-height:36.60px;color:#ffffff;font-style:normal;transform:scaleX(1.03851)">From the age of 10 boys and girls were encouraged to join</div>
<div class="t" style="left:1884.80px;top:3154.5px;font-size:36.60px;line-height:36.60px;color:#ffffff;font-style:normal;transform:scaleX(1.04256)">the Nazis’ youth organisations;</div>
<div class="t" style="left:1944.98px;top:3232.2px;font-size:36.60px;line-height:36.60px;color:#ffffff;font-style:normal;transform:scaleX(1.02493)">German Young People for boys aged 10-13</div>
<div class="t" style="left:1946.00px;top:3288.4px;font-size:36.60px;line-height:36.60px;color:#ffffff;font-style:normal;transform:scaleX(1.01360)">Young Girls League for girls aged 10-14</div>
<div class="t" style="left:1947.00px;top:3344.0px;font-size:36.60px;line-height:36.60px;color:#ffffff;font-style:normal;transform:scaleX(1.02289)">The Hitler Youth for boys aged 14-18</div>
<div class="t" style="left:1947.00px;top:3400.2px;font-size:36.60px;line-height:36.60px;color:#ffffff;font-style:normal;transform:scaleX(1.02128)">The League of German Maidens for girls aged 14-18</div>
<div class="t" style="left:1881.71px;top:3477.4px;font-size:36.60px;line-height:36.60px;color:#ffffff;font-style:normal;transform:scaleX(1.04392)">Membership from age 10 was made compulsory in 1936,</div>
<div class="t" style="left:1883.75px;top:3530.1px;font-size:36.60px;line-height:36.60px;color:#ffffff;font-style:normal;transform:scaleX(1.05026)">although many did not join, but by 1939 90 per cent of</div>
<div class="t" style="left:1882.76px;top:3582.3px;font-size:36.60px;line-height:36.60px;color:#ffffff;font-style:normal;transform:scaleX(1.03734)">German boys aged 14 and over were members.</div>
<div class="t" style="left:1882.00px;top:3688.5px;font-size:36.60px;line-height:36.60px;color:#ffffff;font-style:normal;transform:scaleX(1.06694)">After the end of WWII, the Hitler Youth was disbanded.</div>
<div class="t" style="left:1884.00px;top:3741.1px;font-size:36.60px;line-height:36.60px;color:#ffffff;font-style:normal;transform:scaleX(1.04612)">Today, the group is considered one of the most chilling</div>
<div class="t" style="left:1883.00px;top:3794.0px;font-size:36.60px;line-height:36.60px;color:#ffffff;font-style:normal;transform:scaleX(1.04917)">facets of the Nazi regime — proof that a totalitarian state</div>
<div class="t" style="left:1881.95px;top:3847.0px;font-size:36.60px;line-height:36.60px;color:#ffffff;font-style:normal;transform:scaleX(1.05593)">can use children to feed its armies and further its hateful</div>
<div class="t" style="left:1880.91px;top:3898.8px;font-size:36.60px;line-height:36.60px;color:#ffffff;font-style:normal;transform:scaleX(1.05416)">ideologies.</div>
<div class="t" style="left:2376.40px;top:4576.6px;font-size:38.00px;line-height:38.00px;color:#e9466c;font-style:italic;transform:scaleX(1.02941)">School trips, we’re on it</div>
</body></html>
